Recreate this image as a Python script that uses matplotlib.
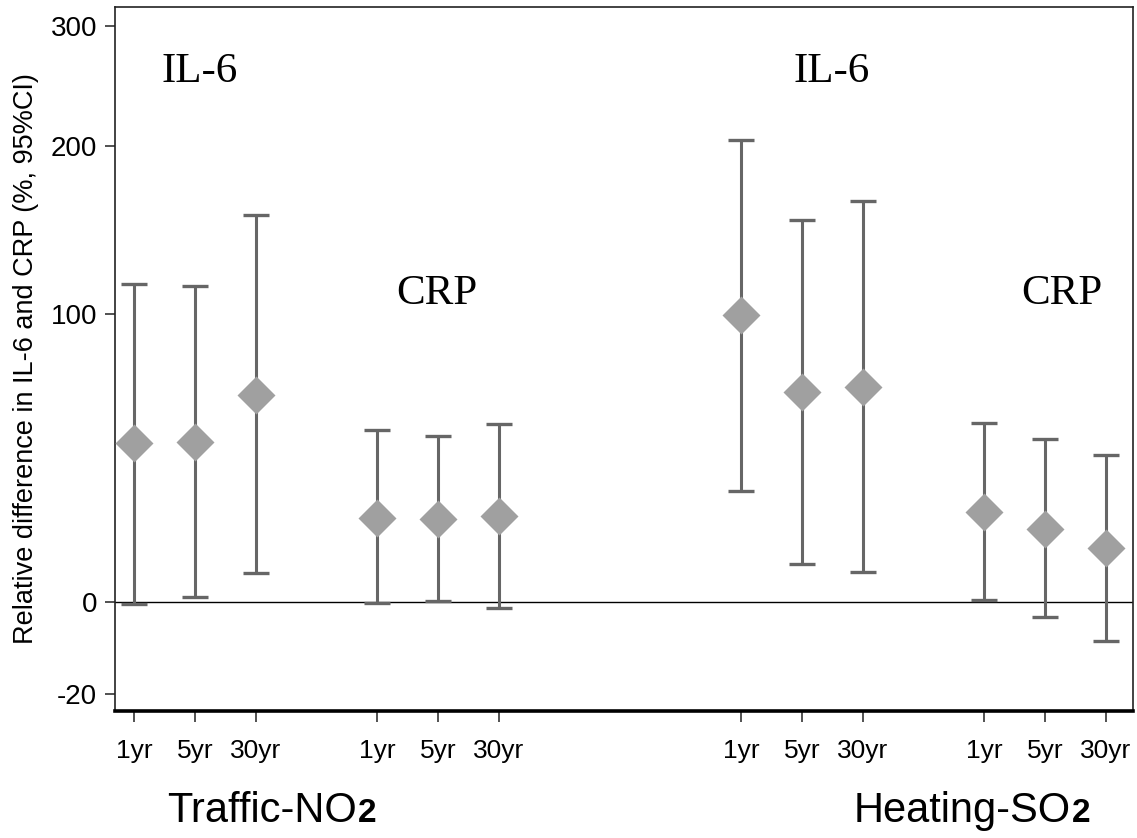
import numpy as np
import matplotlib
matplotlib.use("Agg")
import matplotlib.pyplot as plt

plt.rcParams["font.family"] = ["Liberation Sans", "DejaVu Sans"]

# relative difference (%) with 95% CI, per exposure window
windows = ["1yr", "5yr", "30yr"]
pos = [1, 2, 3, 5, 6, 7, 11, 12, 13, 15, 16, 17]

no2_il6 = [46.5, 46.8, 64.5]
no2_il6_lo = [-0.6, 1.1, 7.1]
no2_il6_hi = [115.0, 114.0, 154.0]

no2_crp = [22.4, 22.0, 22.9]
no2_crp_lo = [-0.4, 0.2, -1.4]
no2_crp_hi = [51.1, 49.1, 53.6]

so2_il6 = [99.4, 65.7, 67.6]
so2_il6_lo = [30.7, 9.6, 7.4]
so2_il6_hi = [204.0, 150.6, 162.6]

so2_crp = [24.2, 19.0, 13.7]
so2_crp_lo = [0.4, -3.7, -9.1]
so2_crp_hi = [53.9, 48.0, 42.3]

yticks = [300, 200, 100, 0, -20]

est = np.array(no2_il6 + no2_crp + so2_il6 + so2_crp)
lo = np.array(no2_il6_lo + no2_crp_lo + so2_il6_lo + so2_crp_lo)
hi = np.array(no2_il6_hi + no2_crp_hi + so2_il6_hi + so2_crp_hi)


def tr(v):
    # ratio scale: log(1 + %/100)
    return np.log1p(np.asarray(v, dtype=float) / 100.0)


fig = plt.figure(figsize=(11.37, 8.38), dpi=100)
ax = fig.add_axes([0.1011, 0.1516, 0.8954, 0.84])

ax.axhline(0, color="black", lw=1.0, zorder=1)

y = tr(est)
ax.errorbar(pos, y, yerr=[y - tr(lo), tr(hi) - y], fmt="none",
            ecolor="#666666", elinewidth=2.2, capsize=9.5, capthick=2.4,
            zorder=2)
ax.plot(pos, y, "D", ms=19.5, color="#a0a0a0", mec="none", zorder=3)

ax.set_xlim(0.68, 17.45)
ax.set_ylim(-0.2634, 1.433)
ax.set_xticks(pos)
ax.set_xticklabels(windows * 4, fontsize=19)
ax.set_yticks(tr(yticks))
ax.set_yticklabels([str(v) for v in yticks], fontsize=20)
ax.tick_params(axis="x", length=8, width=1.2, pad=12, color="#333333")
ax.tick_params(axis="y", length=7, width=1.2, pad=6, color="#333333")

for s in ["top", "right", "left"]:
    ax.spines[s].set_linewidth(1.2)
    ax.spines[s].set_color("#222222")
ax.spines["bottom"].set_linewidth(2.6)

ax.set_ylabel("Relative difference in IL-6 and CRP (%, 95%CI)", fontsize=19.5,
              labelpad=8)

serif = {"family": "Liberation Serif", "fontsize": 31}
ax.text(2.08, tr(259), "IL-6", ha="center", va="center", **serif)
ax.text(12.49, tr(259), "IL-6", ha="center", va="center", **serif)
ax.text(5.98, tr(110), "CRP", ha="center", va="center", **serif)
ax.text(16.28, tr(110), "CRP", ha="center", va="center", **serif)

# pollutant names, with a bold "2" set after the main text
fig.canvas.draw()
renderer = fig.canvas.get_renderer()
for name, xc in [("Traffic-NO", 262), ("Heating-SO", 962)]:
    t = fig.text(xc / 1137, 1 - 822 / 838, name, fontsize=30,
                 ha="center", va="baseline")
    bb = t.get_window_extent(renderer)
    fig.text(bb.x1 / 1137 + 0.001, 1 - 822 / 838, "2", fontsize=24,
             fontweight="bold", ha="left", va="baseline")

fig.savefig("out.png", dpi=100, facecolor="white")
